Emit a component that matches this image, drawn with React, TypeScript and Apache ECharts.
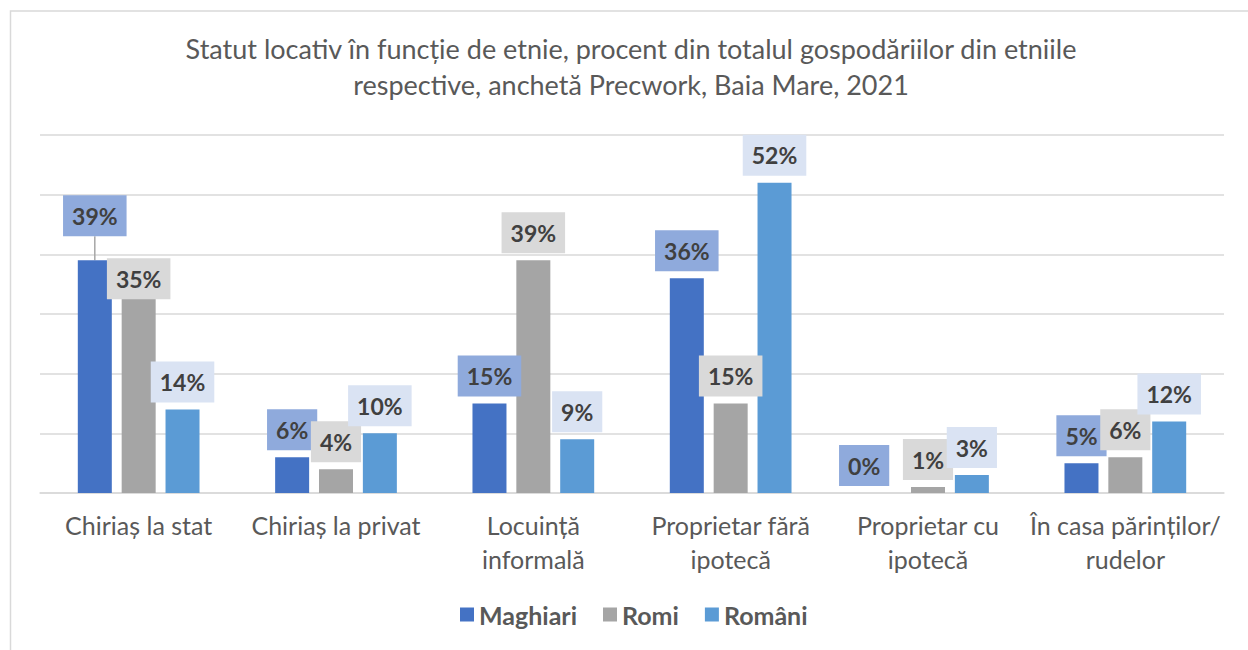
import React, { useEffect, useRef } from "react";
import * as echarts from "echarts";

const categories = [
  "Chiriaș la stat",
  "Chiriaș la privat",
  "Locuință\ninformală",
  "Proprietar fără\nipotecă",
  "Proprietar cu\nipotecă",
  "În casa părinților/\nrudelor",
];
const seriesNames = ["Maghiari", "Romi", "Români"];
const maghiari = [39, 6, 15, 36, 0, 5];
const romi = [35, 4, 39, 15, 1, 6];
const romani = [14, 10, 9, 52, 3, 12];

const barColors = ["#4472C4", "#A5A5A5", "#5B9BD5"];
const labelBg = ["#8FAADC", "#D9D9D9", "#DAE3F3"];
// manual label displacements [dx, dy] (as in the original chart)
const labelShift: number[][][] = [
  [[0, -17], [0, 0], [0, 0], [0, 0], [-20, 0], [0, 0]],
  [[0, 22], [0, 0], [0, 0], [0, 0], [0, 0], [0, 0]],
  [[0, 0], [0, 0], [0, 0], [0, 0], [0, 0], [0, 0]],
];
const leaderLines: number[][] = [[0], [], []];

const FONT = "Lato";

export default function App() {
  const ref = useRef<HTMLDivElement>(null);
  useEffect(() => {
    if (!ref.current) return;
    const chart = echarts.init(ref.current, undefined, { renderer: "svg" });
    const all = [maghiari, romi, romani];
    const series = all.map((vals, si) => ({
      type: "bar",
      name: seriesNames[si],
      barWidth: 34,
      barGap: "29%",
      itemStyle: { color: barColors[si] },
      data: vals.map((v, i) => ({
        value: v,
        labelLine: { show: leaderLines[si].includes(i) },
      })),
      label: {
        show: true,
        position: "top",
        distance: 7,
        formatter: "{c}%",
        fontFamily: FONT,
        fontWeight: "bold",
        fontSize: 23,
        lineHeight: 25,
        color: "#404040",
        backgroundColor: labelBg[si],
        padding: [8, 9, 8, 9],
      },
      labelLine: {
        show: false,
        lineStyle: { color: "#A6A6A6", width: 1.5 },
      },
      labelLayout: (p: any) => {
        const s = labelShift[si][p.dataIndex];
        return { dx: s[0], dy: s[1] };
      },
    }));
    chart.setOption({
      animation: false,
      backgroundColor: "#FFFFFF",
      title: {
        text:
          "Statut locativ în funcție de etnie, procent din totalul gospodăriilor din etniile\nrespective, anchetă Precwork, Baia Mare, 2021",
        left: 631,
        textAlign: "center",
        top: 30,
        padding: 0,
        textStyle: {
          fontFamily: FONT,
          fontWeight: "normal",
          fontSize: 27,
          lineHeight: 36,
          color: "#595959",
        },
      },
      legend: {
        data: seriesNames,
        left: 455,
        top: 597,
        itemWidth: 14,
        itemHeight: 14,
        itemGap: 26,
        icon: "rect",
        textStyle: {
          fontFamily: FONT,
          fontWeight: "bold",
          fontSize: 25,
          color: "#595959",
        },
      },
      grid: { left: 40, right: 24, top: 135, bottom: 157, containLabel: false },
      xAxis: {
        type: "category",
        data: categories,
        axisLine: { lineStyle: { color: "#D9D9D9", width: 1.5 } },
        axisTick: { show: false },
        axisLabel: {
          fontFamily: FONT,
          fontSize: 25,
          lineHeight: 34,
          color: "#595959",
          margin: 15,
          interval: 0,
        },
      },
      yAxis: {
        type: "value",
        min: 0,
        max: 60,
        interval: 10,
        axisLabel: { show: false },
        axisLine: { show: false },
        axisTick: { show: false },
        splitLine: { lineStyle: { color: "#D9D9D9", width: 1.5 } },
      },
      graphic: [
        {
          type: "rect",
          shape: { x: 10.5, y: 11, width: 1400, height: 800 },
          style: { fill: "none", stroke: "#D9D9D9", lineWidth: 1.5 },
          silent: true,
          z: -10,
        },
      ],
      series,
    });
    return () => chart.dispose();
  }, []);
  return (
    <div
      ref={ref}
      style={{ position: "absolute", left: 0, top: 0, width: 1248, height: 650 }}
    />
  );
}
